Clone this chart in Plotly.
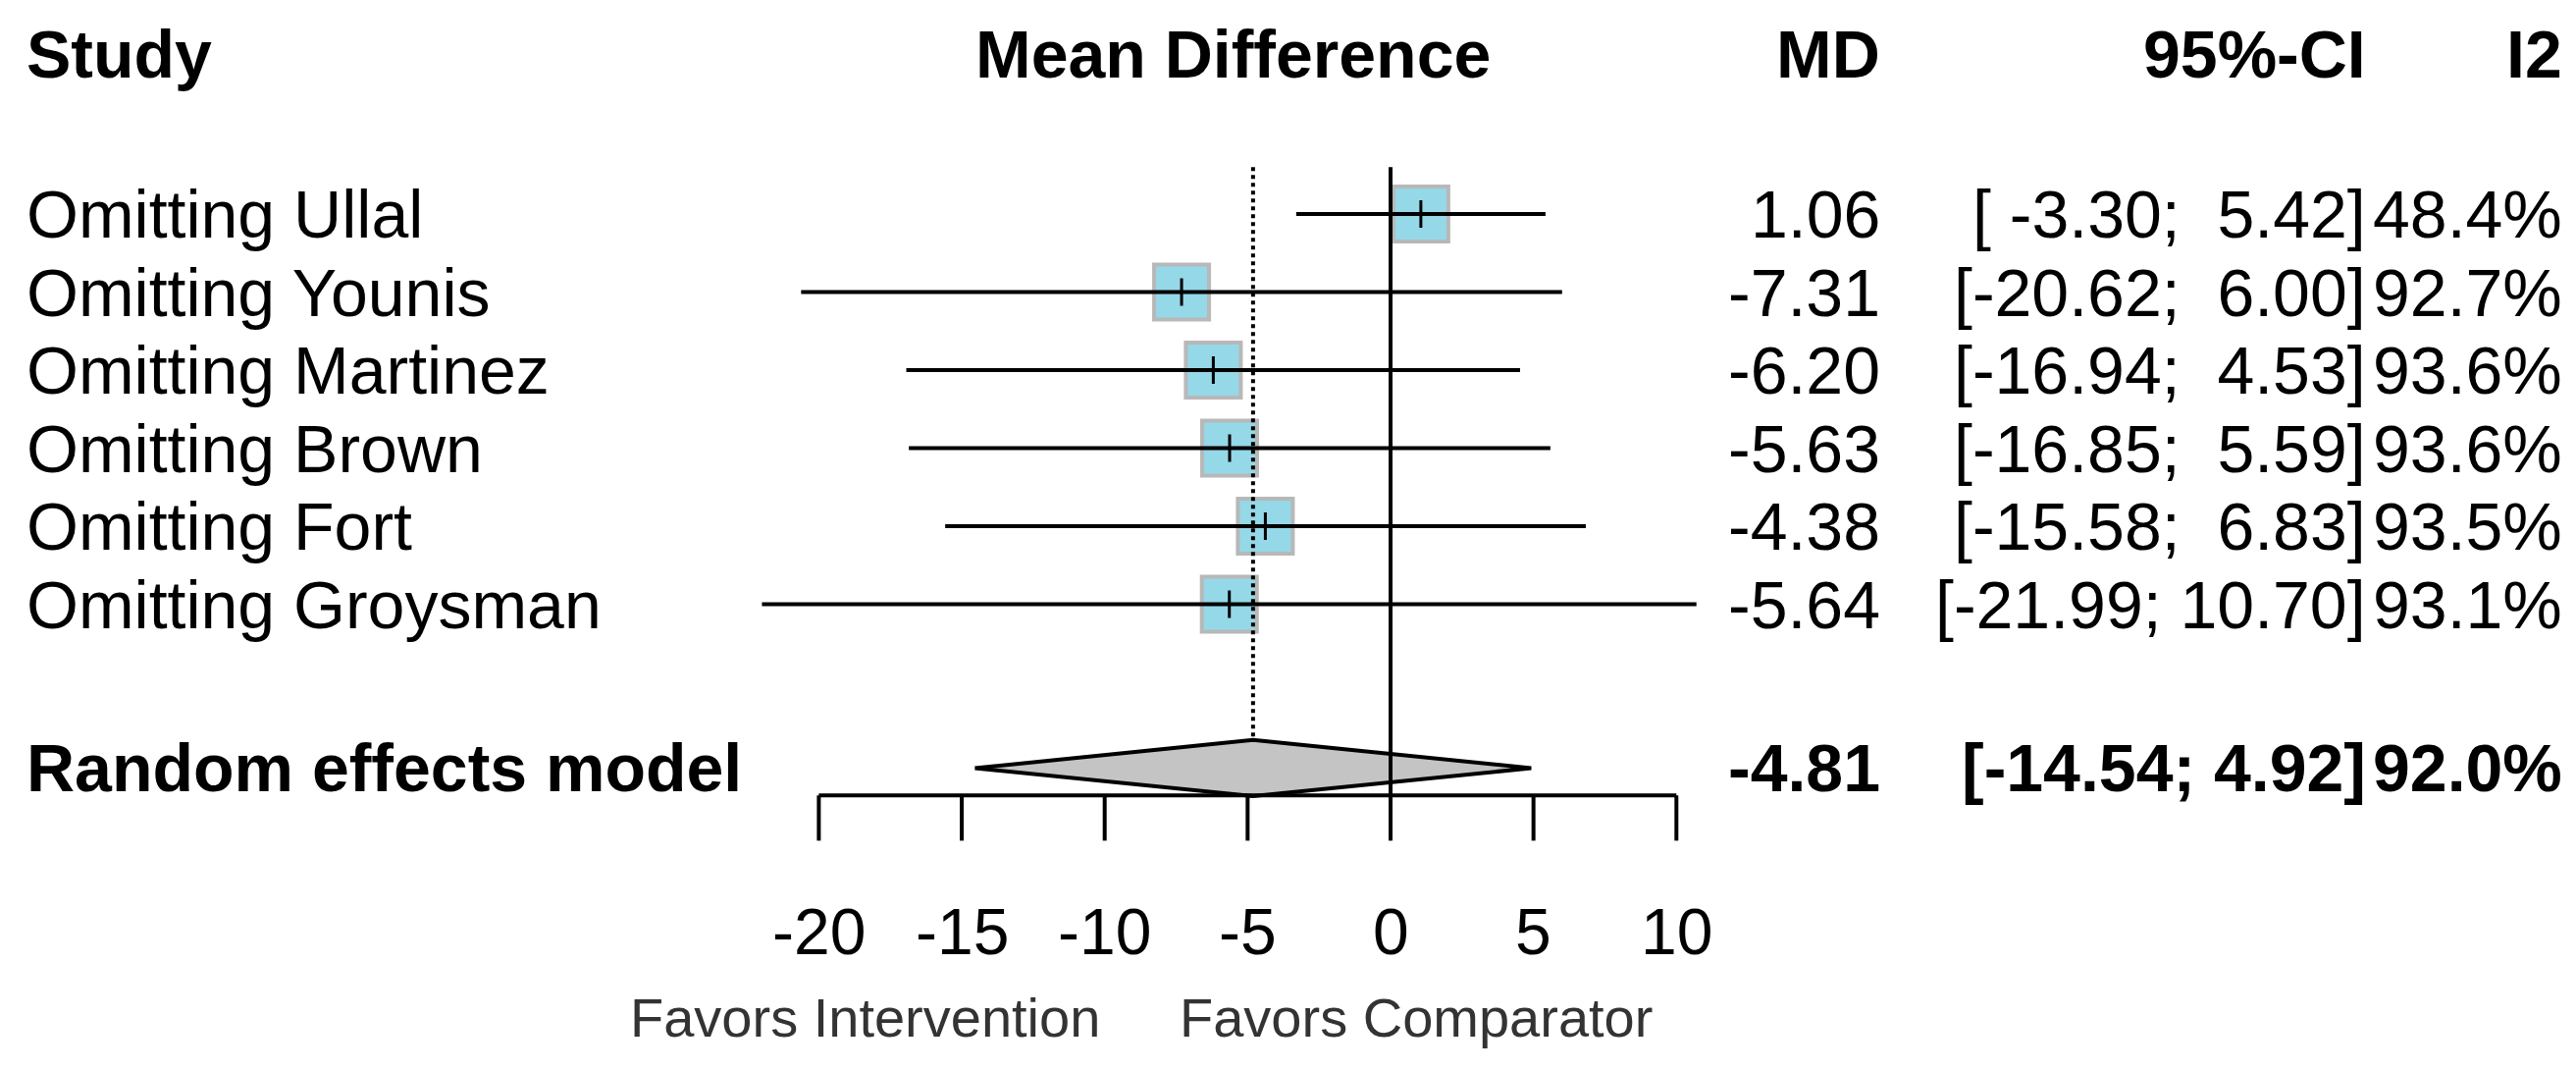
import plotly.graph_objects as go

studies = ["Omitting Ullal", "Omitting Younis", "Omitting Martinez", "Omitting Brown",
           "Omitting Fort", "Omitting Groysman"]
md = [1.06, -7.31, -6.20, -5.63, -4.38, -5.64]
lo = [-3.30, -20.62, -16.94, -16.85, -15.58, -21.99]
hi = [5.42, 6.00, 4.53, 5.59, 6.83, 10.70]
i2 = ["48.4%", "92.7%", "93.6%", "93.6%", "93.5%", "93.1%"]
re_md, re_lo, re_hi, re_i2 = -4.81, -14.54, 4.92, "92.0%"
ticks = [-20, -15, -10, -5, 0, 5, 10]

W, H = 2625, 1090
ppu = 29.13
x0 = -1409 / ppu
xr = [x0, x0 + W / ppu]
yr = [(H - 210) / 79.5, -210 / 79.5]
ry = 7.1
axy = 7.45
lw = 4

font = "Liberation Sans, Arial, sans-serif"
fig = go.Figure()
shapes = []
for i in range(len(studies)):
    shapes.append(dict(type="line", x0=lo[i], x1=hi[i], y0=i, y1=i, line=dict(color="black", width=lw)))
# zero line and pooled dotted line
shapes.append(dict(type="line", x0=0, x1=0, y0=-0.6, y1=axy, line=dict(color="black", width=lw)))
shapes.append(dict(type="line", x0=re_md, x1=re_md, y0=-0.6, y1=ry - 0.36,
                   line=dict(color="black", width=lw, dash="dot")))
# axis
shapes.append(dict(type="line", x0=ticks[0], x1=ticks[-1], y0=axy, y1=axy, line=dict(color="black", width=lw)))
for t in ticks:
    shapes.append(dict(type="line", x0=t, x1=t, y0=axy, y1=axy + 0.58, line=dict(color="black", width=lw)))

ys = list(range(len(studies)))
fig.add_trace(go.Scatter(x=md, y=ys, mode="markers",
                         marker=dict(symbol="square", size=56, color="#95D8E8",
                                     line=dict(color="#B8B8B8", width=4))))
fig.add_trace(go.Scatter(x=md, y=ys, mode="markers",
                         marker=dict(symbol="line-ns", size=20, line=dict(color="black", width=3))))
fig.add_trace(go.Scatter(x=[re_lo, re_md, re_hi, re_md, re_lo],
                         y=[ry, ry - 0.36, ry, ry + 0.36, ry], mode="lines", fill="toself",
                         fillcolor="#C4C4C4", line=dict(color="black", width=lw)))

ann = []
def txt(x, y, s, anchor, size=68, bold=False, color="black", xref="paper"):
    ann.append(dict(x=x, y=y, xref=xref, yref="y", text=f"<b>{s}</b>" if bold else s,
                    xanchor=anchor, yanchor="middle", showarrow=False,
                    font=dict(family=font, size=size, color=color)))

hy = -2.05
txt(17 / W, hy, "Study", "left", bold=True)
txt(1248 / W, hy, "Mean Difference", "center", bold=True)
txt(1910 / W, hy, "MD", "right", bold=True)
txt(2405 / W, hy, "95%-CI", "right", bold=True)
txt(2605 / W, hy, "I2", "right", bold=True)
for i, s in enumerate(studies):
    txt(17 / W, i, s, "left")
    txt(1910 / W, i, f"{md[i]:.2f}", "right")
    txt(2405 / W, i, f"[{lo[i]:6.2f}; {hi[i]:5.2f}]".replace(" ", "&nbsp;"), "right")
    txt(2605 / W, i, i2[i], "right")
txt(17 / W, ry, "Random effects model", "left", bold=True)
txt(1910 / W, ry, f"{re_md:.2f}", "right", bold=True)
txt(2405 / W, ry, f"[{re_lo:.2f}; {re_hi:.2f}]", "right", bold=True)
txt(2605 / W, ry, re_i2, "right", bold=True)
for t in ticks:
    txt(t, 9.2, str(t), "center", size=66, xref="x")
txt(1115 / W, 10.3, "Favors Intervention", "right", size=56, color="#333333")
txt(1192 / W, 10.3, "Favors Comparator", "left", size=56, color="#333333")

fig.update_layout(width=W, height=H, margin=dict(l=0, r=0, t=0, b=0),
                  paper_bgcolor="white", plot_bgcolor="white", showlegend=False,
                  shapes=shapes, annotations=ann,
                  xaxis=dict(range=xr, visible=False, fixedrange=True),
                  yaxis=dict(range=yr, visible=False, fixedrange=True))
fig.write_html("out.html")
